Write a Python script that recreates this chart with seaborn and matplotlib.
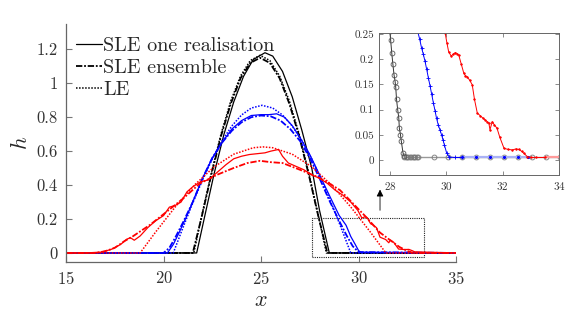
import matplotlib
matplotlib.use("Agg")
import matplotlib.pyplot as plt
import seaborn as sns
from matplotlib.lines import Line2D
from matplotlib.patches import Rectangle

# ---- main plot data ----
blk_one_x = [15, 21.7, 22.1, 22.6, 23.1, 23.6, 24.1, 24.6, 25.2, 25.6, 26.1, 26.6, 27.1, 27.6, 28.0, 28.5, 35]
blk_one_h = [0, 0, 0.21, 0.47, 0.70, 0.89, 1.04, 1.14, 1.18, 1.16, 1.07, 0.92, 0.72, 0.50, 0.25, 0, 0]
blk_ens_x = [15, 21.5, 21.95, 22.45, 22.95, 23.45, 23.95, 24.45, 24.95, 25.45, 25.95, 26.45, 26.95, 27.45, 27.95, 28.4, 35]
blk_ens_h = [0, 0, 0.21, 0.46, 0.69, 0.88, 1.03, 1.12, 1.15, 1.12, 1.03, 0.88, 0.69, 0.46, 0.21, 0, 0]
blk_le_x = [15, 21.55, 21.95, 22.45, 22.95, 23.45, 23.95, 24.45, 24.95, 25.45, 25.95, 26.45, 26.95, 27.45, 27.95, 28.35, 35]
blk_le_h = [0, 0, 0.214, 0.471, 0.701, 0.896, 1.043, 1.134, 1.165, 1.134, 1.043, 0.896, 0.701, 0.471, 0.214, 0, 0]

blu_one_x = [15, 20.2, 20.5, 20.8, 21.2, 21.6, 22.0, 22.5, 23.0, 23.5, 24.0, 24.5, 25.0, 25.4, 25.8, 26.2, 26.6,
             27.0, 27.5, 28.0, 28.5, 29.0, 29.36, 29.6, 29.83, 30.0, 30.1, 35]
blu_one_h = [0, 0, 0.05, 0.12, 0.22, 0.33, 0.44, 0.56, 0.65, 0.73, 0.78, 0.81, 0.815, 0.815, 0.82, 0.8, 0.75,
             0.68, 0.58, 0.46, 0.34, 0.222, 0.163, 0.097, 0.05, 0.014, 0.005, 0]
blu_ens_x = [15, 20.0, 20.3, 20.6, 21.0, 21.5, 22.0, 22.5, 23.0, 23.5, 24.0, 24.5, 25.0, 25.5, 26.0, 26.5,
             27.0, 27.5, 28.0, 28.5, 29.0, 29.4, 29.7, 30.0, 35]
blu_ens_h = [0, 0, 0.03, 0.09, 0.18, 0.30, 0.44, 0.56, 0.65, 0.72, 0.77, 0.80, 0.81, 0.805, 0.78, 0.73,
             0.66, 0.56, 0.44, 0.31, 0.19, 0.10, 0.04, 0.005, 0]
blu_le_x = [15, 20.5, 21.0, 21.5, 22.0, 22.5, 23.0, 23.5, 24.0, 24.5, 25.05, 25.6, 26.1, 26.6, 27.1, 27.6,
            28.1, 28.6, 29.1, 29.6, 35]
blu_le_h = [0, 0, 0.15, 0.295, 0.43, 0.554, 0.661, 0.748, 0.813, 0.854, 0.87, 0.854, 0.813, 0.748, 0.661, 0.554,
            0.43, 0.295, 0.15, 0, 0]

red_one_x = [15, 16.0, 16.8, 17.3, 17.8, 18.1, 18.3, 18.5, 18.8, 19.2, 19.6, 20.0, 20.3, 20.6, 20.9, 21.2, 21.5,
             21.9, 22.3, 22.7, 23.2, 23.6, 24.0, 24.4, 24.8, 25.2, 25.5, 25.9, 26.1, 26.4, 26.8, 27.2, 27.6,
             28.0, 28.4, 28.8, 29.2, 29.6, 29.96, 30.17, 30.32, 30.44, 30.62, 30.74, 30.92, 31.1, 31.39, 31.55,
             31.63, 31.8, 32.05, 32.35, 32.58, 32.76, 32.88, 35]
red_one_h = [0, 0, 0.005, 0.02, 0.05, 0.08, 0.09, 0.075, 0.1, 0.15, 0.19, 0.22, 0.27, 0.28, 0.30, 0.36, 0.39,
             0.42, 0.43, 0.47, 0.52, 0.555, 0.57, 0.58, 0.585, 0.59, 0.60, 0.61, 0.57, 0.53, 0.51, 0.49, 0.46,
             0.44, 0.41, 0.37, 0.34, 0.30, 0.251, 0.206, 0.213, 0.208, 0.172, 0.165, 0.149, 0.093, 0.079, 0.06,
             0.076, 0.063, 0.023, 0.02, 0.021, 0.013, 0.0066, 0]
red_ens_x = [15, 16.5, 17.0, 17.5, 18.0, 18.4, 19.3, 20.16, 21.0, 21.87, 22.73, 23.58, 24.3, 24.95, 25.5, 26.1,
             27.0, 27.86, 28.5, 29.05, 29.56, 30.4, 31.1, 31.6, 32.1, 32.5, 32.8, 35]
red_ens_h = [0, 0, 0.01, 0.03, 0.07, 0.096, 0.165, 0.243, 0.32, 0.41, 0.46, 0.50, 0.53, 0.543, 0.535, 0.53,
             0.49, 0.45, 0.41, 0.37, 0.31, 0.21, 0.12, 0.077, 0.035, 0.012, 0, 0]
red_le_x = [15, 18.8, 19.6, 20.6, 21.6, 22.6, 23.6, 24.6, 25.1, 25.6, 26.6, 27.6, 28.6, 29.6, 30.6, 31.4, 35]
red_le_h = [0, 0, 0.124, 0.271, 0.402, 0.508, 0.582, 0.620, 0.625, 0.620, 0.582, 0.508, 0.402, 0.271, 0.124, 0, 0]

# ---- inset data ----
in_blk_x = [27.99, 28.02, 28.06, 28.10, 28.14, 28.18, 28.2, 28.23, 28.27, 28.31, 28.33, 28.37, 28.4, 28.46, 28.5]
in_blk_h = [0.255, 0.238, 0.212, 0.19, 0.169, 0.155, 0.145, 0.12, 0.1, 0.083, 0.063, 0.05, 0.037, 0.014, 0.0085]
in_zero_x = [28.5, 28.55, 28.6, 28.65, 28.7, 28.75, 28.8, 28.85, 28.9, 28.95, 29.0, 29.55, 30.05, 30.55,
             31.05, 31.55, 32.05, 32.55, 33.05, 33.55, 34.05]
in_zero_h = [0.005] * len(in_zero_x)
in_blu_x = [28.98, 29.05, 29.12, 29.18, 29.24, 29.3, 29.36, 29.42, 29.48, 29.54, 29.6, 29.65, 29.71, 29.77,
            29.83, 29.88, 29.93, 30.01, 30.1, 30.3, 30.55]
in_blu_h = [0.255, 0.24, 0.222, 0.21, 0.196, 0.18, 0.163, 0.147, 0.13, 0.113, 0.097, 0.083, 0.07, 0.06,
            0.05, 0.04, 0.03, 0.014, 0.006, 0.005, 0.005]
in_blu_zero_x = [30.55, 31.05, 31.55, 32.05, 32.55, 32.9]
in_red_x = [29.96, 30.02, 30.08, 30.17, 30.25, 30.32, 30.38, 30.44, 30.53, 30.62, 30.68, 30.74, 30.83, 30.92,
            31.0, 31.1, 31.2, 31.3, 31.39, 31.45, 31.51, 31.55, 31.63, 31.7, 31.8, 31.9, 32.05, 32.2, 32.35,
            32.47, 32.58, 32.68, 32.76, 32.88, 33.0, 33.2, 33.5]
in_red_h = [0.251, 0.232, 0.215, 0.206, 0.21, 0.213, 0.211, 0.208, 0.19, 0.172, 0.167, 0.165, 0.158, 0.149,
            0.12, 0.093, 0.088, 0.083, 0.079, 0.076, 0.073, 0.06, 0.076, 0.07, 0.063, 0.045, 0.023, 0.021, 0.02,
            0.022, 0.021, 0.017, 0.013, 0.0066, 0.005, 0.005, 0.005]
in_red_zero_x = [33.5, 34.05]

sns.set_style("ticks")
plt.rcParams['font.family'] = ['cmr10', 'DejaVu Serif']
plt.rcParams['mathtext.fontset'] = 'cm'
plt.rcParams['axes.formatter.use_mathtext'] = True
plt.rcParams['axes.unicode_minus'] = False

BLUE = '#0000ff'
RED = '#ff0000'
dashdot = (0, (3.5, 1, 1, 1))
dotted = (0, (1, 1))

fig = plt.figure(figsize=(5.81, 3.10), dpi=100)
ax = fig.add_axes([0.1136, 0.155, 0.6714, 0.768])

series = [
    (blk_one_x, blk_one_h, 'black', '-', 0.9),
    (blk_ens_x, blk_ens_h, 'black', dashdot, 1.3),
    (blk_le_x, blk_le_h, 'black', dotted, 1.1),
    (blu_one_x, blu_one_h, BLUE, '-', 0.9),
    (blu_ens_x, blu_ens_h, BLUE, dashdot, 1.3),
    (blu_le_x, blu_le_h, BLUE, dotted, 1.1),
    (red_one_x, red_one_h, RED, '-', 0.9),
    (red_ens_x, red_ens_h, RED, dashdot, 1.3),
    (red_le_x, red_le_h, RED, dotted, 1.1),
]
for xs, hs, c, ls, lw in series:
    sns.lineplot(x=xs, y=hs, ax=ax, color=c, linestyle=ls, linewidth=lw, sort=False)

ax.set_xlim(15, 35)
ax.set_ylim(-0.053, 1.35)
ax.set_xticks([15, 20, 25, 30, 35])
ax.set_yticks([0, 0.2, 0.4, 0.6, 0.8, 1.0, 1.2])
ax.set_yticklabels(['0', '0.2', '0.4', '0.6', '0.8', '1', '1.2'])
ax.tick_params(direction='in', length=4, width=0.8, color='#777777', labelsize=12,
               labelcolor='#333333', pad=6)
sns.despine(ax=ax)
for s in ['left', 'bottom']:
    ax.spines[s].set_color('#666666')
    ax.spines[s].set_linewidth(0.9)
ax.set_xlabel('$x$', fontsize=16, labelpad=2)
ax.set_ylabel('$h$', fontsize=16, labelpad=4)

handles = [Line2D([], [], color='black', lw=0.9, ls='-'),
           Line2D([], [], color='black', lw=1.3, ls=dashdot),
           Line2D([], [], color='black', lw=1.1, ls=dotted)]
ax.legend(handles, ['SLE one realisation', 'SLE ensemble', 'LE'], loc='upper left',
          bbox_to_anchor=(-0.005, 0.995), frameon=False, fontsize=14.5, handlelength=1.3,
          handletextpad=0.05, labelspacing=0.2, borderaxespad=0.2)

ax.add_patch(Rectangle((27.6, -0.024), 5.75, 0.23, fill=False, ls=(0, (1, 1)), lw=0.8,
                       ec='#222222'))
ax.annotate('', xy=(31.1, 0.39), xytext=(31.1, 0.235),
            arrowprops=dict(arrowstyle='-|>', color='black', lw=0.6, mutation_scale=10),
            annotation_clip=False)

# ---- inset ----
ins = fig.add_axes([0.652, 0.435, 0.31, 0.459])
sns.lineplot(x=in_zero_x, y=in_zero_h, ax=ins, color='#999999', lw=1.0, marker='o', ms=3.5,
             mfc='none', mec='#777777', mew=0.6, sort=False)
sns.lineplot(x=in_blk_x, y=in_blk_h, ax=ins, color='#333333', lw=0.7, marker='o', ms=3.5,
             mfc='none', mec='#555555', mew=0.6, sort=False)
sns.lineplot(x=in_blu_zero_x, y=[0.005] * len(in_blu_zero_x), ax=ins, color='#aab2f5', lw=1.6,
             marker='.', ms=3, mec=BLUE, mfc=BLUE, sort=False)
sns.lineplot(x=in_blu_x, y=in_blu_h, ax=ins, color=BLUE, lw=0.7, marker='+', ms=3.5,
             mec=BLUE, mew=0.6, sort=False)
sns.lineplot(x=in_red_zero_x, y=[0.005] * len(in_red_zero_x), ax=ins, color='#ff9a9a', lw=1.6,
             sort=False)
sns.lineplot(x=in_red_x, y=in_red_h, ax=ins, color=RED, lw=0.7, marker='.', ms=2.5,
             mec=RED, mfc=RED, mew=0.4, sort=False)
ins.set_xlim(27.6, 34)
ins.set_ylim(-0.03, 0.252)
ins.set_xticks([28, 30, 32, 34])
ins.set_yticks([0, 0.05, 0.1, 0.15, 0.2, 0.25])
ins.set_yticklabels(['0', '0.05', '0.1', '0.15', '0.2', '0.25'])
ins.tick_params(direction='in', length=3, width=0.6, color='#777777', labelsize=8,
                labelcolor='#333333', top=True, right=True)
for s in ins.spines.values():
    s.set_color('#666666')
    s.set_linewidth(0.7)
    s.set_visible(True)

fig.savefig('out.png', dpi=100)
